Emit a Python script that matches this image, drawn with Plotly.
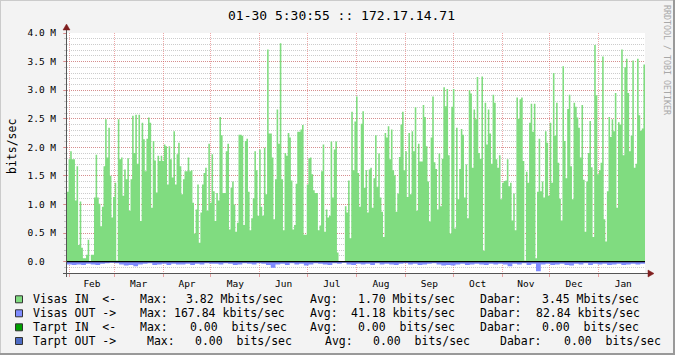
import plotly.graph_objects as go
import pandas as pd

# ---------------- data ----------------
title_text = "01-30 5:30:55 :: 172.17.14.71"
period_start = "2013-01-30 05:30:55"
period_end = "2014-01-30 05:30:55"

# Visas IN (Mbit/s), roughly one reading per day
visas_in_mbps = [
    # Feb - Apr
    1.22, 1.79, 1.93, 1.79, 1.79, 1.07, 1.67, 0.29, 1.05, 0.24,
    0.06, 0.06, 0.12, 0.38, 0.01, 0.12, 0.12, 1.12, 1.87, 1.12,
    1.01, 0.62, 0.96, 1.67, 2.49, 1.82, 2.34, 1.50, 0.77, 1.13,
    1.38, 0.02, 2.49, 1.79, 1.82, 1.15, 1.61, 1.44, 1.81, 0.89,
    1.44, 2.55, 1.90, 2.57, 1.71, 2.57, 0.71, 2.43, 2.14, 1.58,
    2.15, 2.52, 2.43, 0.94, 2.11, 1.77, 1.21, 1.85, 1.76, 1.85,
    1.76, 2.05, 2.02, 1.35, 2.02, 1.79, 1.47, 2.28, 1.35, 1.88,
    2.08, 1.67, 1.18, 1.44, 1.58, 1.58, 1.82, 1.58, 1.60, 1.03,
    0.49, 0.91, 1.35, 0.33, 0.86, 1.35, 1.55, 1.64, 0.89, 2.06,
    1.03, 1.88,
    # May - Jul
    1.23, 0.71, 1.20, 1.07, 2.53, 2.21, 1.20, 1.20, 1.93, 2.06,
    0.56, 1.29, 1.40, 1.00, 0.52, 0.68, 2.22, 2.22, 2.20, 0.64,
    2.11, 2.15, 1.22, 0.55, 0.76, 1.11, 1.93, 1.60, 0.80, 1.96,
    0.96, 0.80, 1.99, 1.18, 3.71, 2.24, 2.24, 1.82, 0.74, 1.44,
    2.66, 2.06, 3.82, 1.44, 0.55, 1.90, 1.85, 2.25, 2.17, 1.42,
    0.56, 0.64, 1.36, 2.27, 2.27, 2.31, 2.39, 0.47, 0.47, 1.35,
    1.81, 1.82, 1.53, 1.25, 1.20, 1.20, 0.55, 0.63, 1.58, 2.05,
    0.52, 0.91, 0.77, 0.80, 2.10, 1.12, 1.96, 2.10, 0.16, 0.00,
    0.00, 0.00, 0.00, 0.97, 0.86, 1.42, 0.41, 2.62, 1.60, 2.45,
    2.89, 1.55,
    # Aug - Oct
    0.96, 2.41, 2.63, 1.29, 1.60, 0.86, 1.61, 1.64, 0.94, 1.46,
    2.21, 1.31, 1.89, 1.12, 0.87, 0.43, 2.25, 2.17, 2.37, 1.79,
    2.31, 1.60, 1.51, 0.87, 1.19, 1.83, 2.40, 2.62, 1.60, 1.93,
    1.13, 2.25, 1.18, 2.28, 1.93, 2.70, 0.89, 2.06, 1.75, 1.75,
    2.74, 2.53, 2.02, 1.40, 0.70, 2.17, 2.89, 1.74, 1.62, 0.91,
    1.89, 0.97, 1.80, 3.05, 2.72, 3.02, 1.86, 0.49, 2.71, 3.02,
    0.58, 2.34, 1.09, 1.62, 2.32, 2.22, 1.12, 1.70, 0.76, 3.00,
    2.94, 1.64, 2.66, 2.49, 3.23, 1.90, 1.80, 3.24, 0.19, 2.78,
    2.05, 2.66, 2.24, 1.71, 2.92, 2.78, 1.79, 1.64, 1.86, 1.09,
    1.38,
    # Nov - Jan
    1.41, 1.42, 1.79, 1.32, 1.38, 0.72, 1.19, 0.55, 2.87, 2.50,
    2.84, 2.87, 1.76, 0.02, 1.57, 1.38, 2.43, 2.76, 2.27, 2.76,
    0.06, 1.22, 2.15, 1.23, 1.40, 1.12, 2.28, 2.08, 1.15, 2.43,
    1.38, 3.30, 2.20, 2.78, 1.73, 1.10, 0.72, 3.42, 2.11, 1.46,
    2.67, 2.92, 1.67, 1.09, 2.78, 2.71, 2.52, 2.34, 1.82, 2.74,
    1.43, 0.52, 1.40, 1.90, 2.46, 1.65, 0.43, 3.79, 2.91, 1.53,
    1.60, 1.73, 3.59, 0.74, 0.35, 1.23, 2.53, 2.18, 2.49, 2.28,
    2.95, 0.94, 2.44, 2.40, 3.71, 1.86, 3.40, 3.55, 2.95, 1.93,
    2.20, 3.52, 1.64, 1.71, 3.55, 2.56, 2.29, 2.33, 3.45,
]

# Visas OUT (Mbit/s), one reading per three days, drawn below zero
visas_out_mbps = [
    0.05, 0.06, 0.05, 0.06, 0.04, 0.05, 0.06, 0.04, 0.03, 0.02,
    0.03, 0.05, 0.07, 0.06, 0.08, 0.05, 0.04, 0.03, 0.06, 0.05,
    0.04, 0.06, 0.04, 0.05, 0.05, 0.04, 0.06, 0.04, 0.05, 0.03, 0.04,
    0.04, 0.05, 0.03, 0.04, 0.06, 0.05, 0.03, 0.04, 0.05, 0.03,
    0.04, 0.06, 0.11, 0.05, 0.04, 0.06, 0.03, 0.05, 0.04, 0.07,
    0.05, 0.03, 0.04, 0.05, 0.06, 0.03, 0.04, 0.02, 0.05, 0.06, 0.04,
    0.05, 0.04, 0.06, 0.03, 0.05, 0.04, 0.05, 0.06, 0.04, 0.03,
    0.05, 0.04, 0.06, 0.05, 0.04, 0.03, 0.05, 0.07, 0.06, 0.07,
    0.05, 0.04, 0.06, 0.05, 0.04, 0.05, 0.06, 0.04, 0.05, 0.04,
    0.05, 0.08, 0.04, 0.05, 0.03, 0.06, 0.04, 0.168, 0.05, 0.04,
    0.06, 0.05, 0.04, 0.06, 0.07, 0.04, 0.05, 0.03, 0.06, 0.04,
    0.05, 0.04, 0.06, 0.05, 0.04, 0.06, 0.05, 0.04, 0.05, 0.04,
]

y_tick_values_m = [0.0, 0.5, 1.0, 1.5, 2.0, 2.5, 3.0, 3.5, 4.0]
y_tick_labels = ["0.0  ", "0.5 M", "1.0 M", "1.5 M", "2.0 M", "2.5 M", "3.0 M", "3.5 M", "4.0 M"]

legend_labels = ["Visas IN  <-", "Visas OUT ->", "Tarpt IN  <-", "Tarpt OUT ->"]
legend_max = ["3.82 Mbits/sec", "167.84 kbits/sec", "0.00  bits/sec", "0.00  bits/sec"]
legend_avg = ["1.70 Mbits/sec", "41.18 kbits/sec", "0.00  bits/sec", "0.00  bits/sec"]
legend_cur = ["3.45 Mbits/sec", "82.84 kbits/sec", "0.00  bits/sec", "0.00  bits/sec"]

# ---------------- styles / layout ----------------
FONT = "DejaVu Sans Mono"
C_IN = "#80DC80"
C_OUT = "#7F8CFF"
legend_colors = [C_IN, C_OUT, "#00A000", "#4E6CC4"]
C_MGRID = "rgba(222,79,79,0.5)"
C_GRID = "rgba(143,143,143,0.45)"
C_ARROW = "#801F1F"
C_AXIS = "#555555"

W, H = 675, 355
PL, PR, PT, PB = 67, 645, 33, 273   # plot area in pixels
pw, ph = PR - PL, PB - PT


def px(xp):
    return (xp - PL) / pw


def py(yp):
    return (PB - yp) / ph


def nb(s):
    return s.replace(" ", "\u00a0")


t0 = pd.Timestamp(period_start)
t1 = pd.Timestamp(period_end)

n_in = len(visas_in_mbps)
step_in = (t1 - t0) / n_in
x_in = [t0 + i * step_in for i in range(n_in)] + [t1]
y_in = [v * 1e6 for v in visas_in_mbps] + [visas_in_mbps[-1] * 1e6]

n_out = len(visas_out_mbps)
step_out = (t1 - t0) / n_out
x_out = [t0 + i * step_out for i in range(n_out)] + [t1]
y_out = [-v * 1e6 for v in visas_out_mbps] + [-visas_out_mbps[-1] * 1e6]

fig = go.Figure()
fig.add_trace(go.Scatter(x=x_in, y=y_in, mode="lines", line=dict(width=0, shape="hv", color=C_IN),
                         fill="tozeroy", fillcolor=C_IN, hoverinfo="skip", showlegend=False))
fig.add_trace(go.Scatter(x=x_out, y=y_out, mode="lines", line=dict(width=0, shape="hv", color=C_OUT),
                         fill="tozeroy", fillcolor=C_OUT, hoverinfo="skip", showlegend=False))

shapes = []
# zero rule
shapes.append(dict(type="line", xref="paper", yref="y", x0=0, x1=1, y0=0, y1=0,
                   line=dict(color="black", width=1.2), layer="above"))
# x axis line + arrow
shapes.append(dict(type="line", xref="paper", yref="paper", x0=px(63), x1=px(649), y0=py(PB + 0.5), y1=py(PB + 0.5),
                   line=dict(color=C_AXIS, width=1), layer="above"))
shapes.append(dict(type="path", xref="paper", yref="paper",
                   path=f"M {px(648)} {py(PB - 3)} L {px(654)} {py(PB + 0.5)} L {px(648)} {py(PB + 4)} Z",
                   fillcolor=C_ARROW, line=dict(color=C_ARROW, width=0.5), layer="above"))
# y axis line + arrow
shapes.append(dict(type="line", xref="paper", yref="paper", x0=px(PL - 0.5), x1=px(PL - 0.5), y0=py(277), y1=py(29),
                   line=dict(color=C_AXIS, width=1), layer="above"))
shapes.append(dict(type="path", xref="paper", yref="paper",
                   path=f"M {px(PL - 4)} {py(30)} L {px(PL - 0.5)} {py(24)} L {px(PL + 3)} {py(30)} Z",
                   fillcolor=C_ARROW, line=dict(color=C_ARROW, width=0.5), layer="above"))
# image frame (3d shading)
shapes.append(dict(type="line", xref="paper", yref="paper", x0=px(0), x1=px(W), y0=py(0.5), y1=py(0.5),
                   line=dict(color="#CBCBCB", width=1)))
shapes.append(dict(type="line", xref="paper", yref="paper", x0=px(0.5), x1=px(0.5), y0=py(0), y1=py(H),
                   line=dict(color="#CBCBCB", width=1)))
shapes.append(dict(type="line", xref="paper", yref="paper", x0=px(0), x1=px(W), y0=py(H - 1), y1=py(H - 1),
                   line=dict(color="#999999", width=2)))
shapes.append(dict(type="line", xref="paper", yref="paper", x0=px(W - 1), x1=px(W - 1), y0=py(0), y1=py(H),
                   line=dict(color="#999999", width=2)))

annotations = []
annotations.append(dict(text=nb(title_text), xref="paper", yref="paper", x=px(341), y=py(15),
                        xanchor="center", yanchor="middle", showarrow=False,
                        font=dict(family=FONT, size=13, color="black")))
annotations.append(dict(text="bits/sec", xref="paper", yref="paper", x=px(12), y=py(147),
                        xanchor="center", yanchor="middle", showarrow=False, textangle=-90,
                        font=dict(family=FONT, size=11.5, color="black")))
annotations.append(dict(text=nb("RRDTOOL / TOBI OETIKER"), xref="paper", yref="paper", x=px(667), y=py(60),
                        xanchor="center", yanchor="middle", showarrow=False, textangle=90,
                        font=dict(family=FONT, size=8.3, color="#A8A8A8")))

# legend rows: pixel layout of the fragments
row_y = [299.3, 313.3, 327.3, 341.0]
col_x = [
    [31, 137.7, 184.3, 308.3, 356.0, 477.7, 540.0],
    [31, 137.7, 172.3, 308.3, 349.3, 477.7, 534.0],
    [31, 137.7, 187.7, 308.3, 356.0, 477.7, 540.0],
    [31, 145.0, 193.3, 323.0, 370.7, 498.3, 561.7],
]
for r in range(4):
    shapes.append(dict(type="rect", xref="paper", yref="paper",
                       x0=px(15.5), x1=px(22.5), y0=py(row_y[r] - 3.5), y1=py(row_y[r] + 3.5),
                       fillcolor=legend_colors[r], line=dict(color="#333333", width=1)))
    frags = [legend_labels[r], "Max:", legend_max[r], "Avg:", legend_avg[r], "Dabar:", legend_cur[r]]
    for c, txt in enumerate(frags):
        annotations.append(dict(text=nb(txt), xref="paper", yref="paper", x=px(col_x[r][c]), y=py(row_y[r]),
                                xanchor="left", yanchor="middle", showarrow=False,
                                font=dict(family=FONT, size=11.5, color="black")))

fig.update_layout(
    width=W, height=H,
    margin=dict(l=PL, r=W - PR, t=PT, b=H - PB, pad=0),
    paper_bgcolor="#F3F3F3", plot_bgcolor="white",
    showlegend=False,
    shapes=shapes, annotations=annotations,
    font=dict(family=FONT, color="black"),
)
fig.update_xaxes(
    type="date", range=[t0, t1],
    tickmode="linear", tick0="2013-02-01", dtick="M1", tickformat="%b", ticklabelmode="period",
    showgrid=True, gridcolor=C_MGRID, griddash="1px,1px", gridwidth=1,
    ticks="outside", ticklen=3, tickcolor=C_MGRID, ticklabelstandoff=-1,
    tickfont=dict(family=FONT, size=9.5, color="black"),
    showline=False, zeroline=False, fixedrange=True,
)
fig.update_yaxes(
    range=[-0.2e6, 4.0e6],
    tickmode="array", tickvals=[v * 1e6 for v in y_tick_values_m], ticktext=[nb(s) for s in y_tick_labels],
    showgrid=True, gridcolor=C_MGRID, griddash="1px,1px", gridwidth=1,
    ticks="outside", ticklen=3, tickcolor=C_MGRID, ticklabelstandoff=5,
    minor=dict(tickmode="linear", tick0=0, dtick=1e5, showgrid=True, gridcolor=C_GRID,
               griddash="1px,1px", gridwidth=1, ticks="outside", ticklen=2, tickcolor=C_GRID),
    tickfont=dict(family=FONT, size=9.5, color="black"),
    showline=False, zeroline=False, fixedrange=True,
)

fig.write_html("out.html")
